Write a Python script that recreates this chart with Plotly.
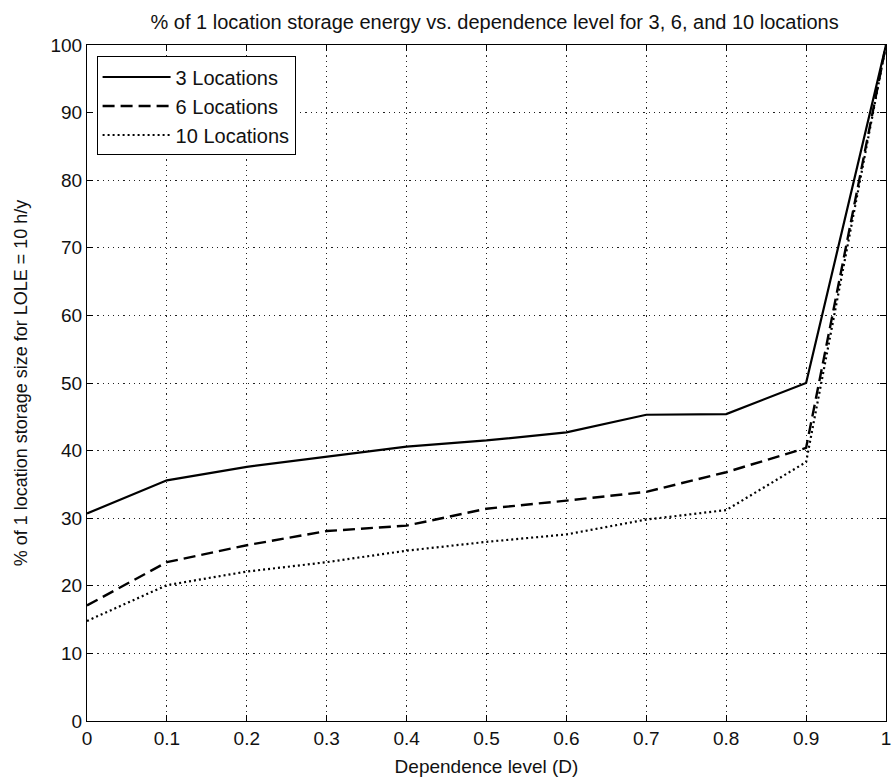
import plotly.graph_objects as go

# Dependence level D
dependence = [0.0, 0.1, 0.2, 0.3, 0.4, 0.5, 0.6, 0.7, 0.8, 0.9, 1.0]

# Storage size as % of the single-location storage energy (LOLE = 10 h/y)
loc3 = [30.7, 35.6, 37.6, 39.1, 40.6, 41.5, 42.7, 45.3, 45.4, 50.0, 100.0]
loc6 = [17.1, 23.5, 26.0, 28.1, 28.9, 31.4, 32.6, 33.9, 36.8, 40.4, 100.0]
loc10 = [14.8, 20.1, 22.1, 23.5, 25.2, 26.5, 27.6, 29.8, 31.2, 38.3, 100.0]

series_names = ["3 Locations", "6 Locations", "10 Locations"]

FONT = "Liberation Sans, Arial, sans-serif"

fig = go.Figure()
fig.add_trace(go.Scatter(x=dependence, y=loc3, mode="lines", name=series_names[0],
                         line=dict(color="black", width=2.2, dash="solid")))
fig.add_trace(go.Scatter(x=dependence, y=loc6, mode="lines", name=series_names[1],
                         line=dict(color="black", width=2.4, dash="12px,6px")))
fig.add_trace(go.Scatter(x=dependence, y=loc10, mode="lines", name=series_names[2],
                         line=dict(color="black", width=2.2, dash="2px,3px")))

axis_common = dict(
    showline=True, linecolor="black", linewidth=1, mirror="allticks",
    ticks="inside", ticklen=6, tickcolor="black", tickwidth=1,
    showgrid=True, gridcolor="#222222", gridwidth=1, griddash="1.2px,4px",
    zeroline=False, tickfont=dict(family=FONT, size=19, color="#111111"),
    ticklabeloverflow="allow",
)

fig.update_layout(
    width=896, height=782,
    margin=dict(l=87, r=5, t=45, b=61),
    paper_bgcolor="white", plot_bgcolor="white",
    font=dict(family=FONT, color="#111111"),
    title=dict(text="% of 1 location storage energy vs. dependence level for 3, 6, and 10 locations",
               x=0.552, xanchor="center", y=1 - 22 / 782, yanchor="middle",
               font=dict(family=FONT, size=20, color="#111111")),
    xaxis=dict(range=[0, 1], dtick=0.1, tick0=0, tickformat="~g",
               title=dict(text="Dependence level (D)", font=dict(family=FONT, size=19), standoff=11),
               **axis_common),
    yaxis=dict(range=[0, 100], dtick=10, tick0=0,
               title=dict(text="% of 1 location storage size for LOLE = 10 h/y",
                          font=dict(family=FONT, size=18), standoff=18),
               **axis_common),
    legend=dict(x=0.012, y=0.983, xanchor="left", yanchor="top",
                bgcolor="white", bordercolor="black", borderwidth=1,
                font=dict(family=FONT, size=20, color="#111111"),
                itemwidth=68, tracegroupgap=0),
    showlegend=True,
)

fig.write_html("out.html")
